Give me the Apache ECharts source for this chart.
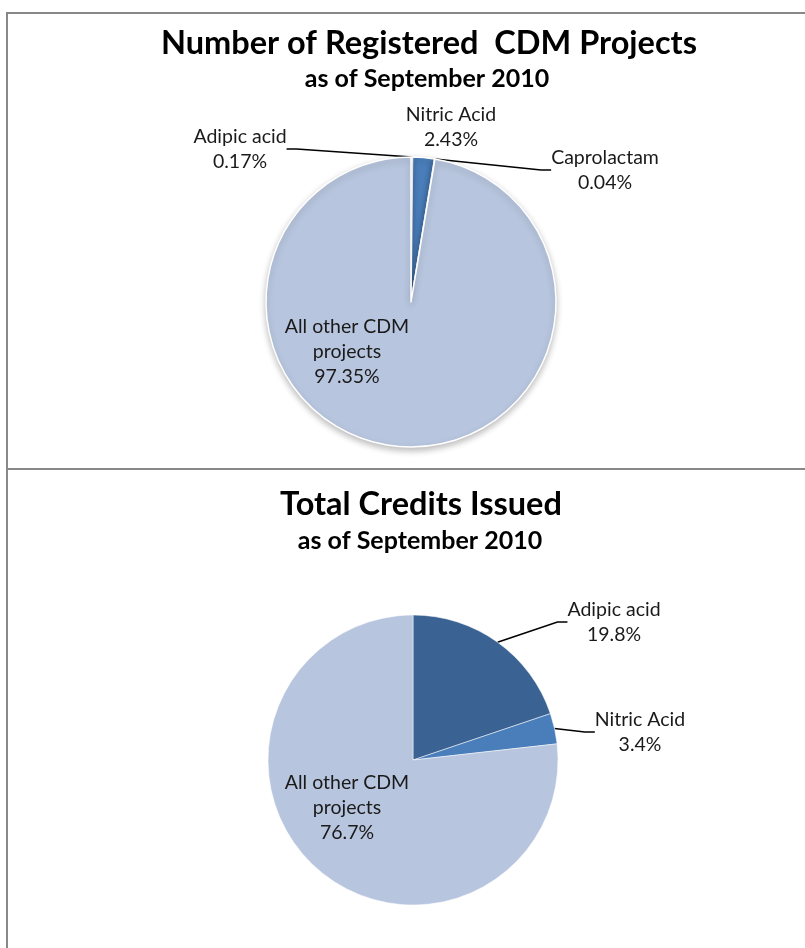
<!DOCTYPE html>
<html>
<head>
<meta charset="utf-8">
<script src="https://cdn.jsdelivr.net/npm/echarts@6/dist/echarts.min.js"></script>
<style>
  html, body { margin: 0; padding: 0; background: #fff; }
  #chart { width: 805px; height: 948px; }
</style>
</head>
<body>
<div id="chart"></div>
<script>
// registered projects, share in %
const projectNames = ['Adipic acid', 'Nitric Acid', 'Caprolactam', 'All other CDM\nprojects'];
const projectShares = [0.17, 2.43, 0.04, 97.35];
// credits issued, share in %
const creditNames = ['Adipic acid', 'Nitric Acid', 'All other CDM\nprojects'];
const creditShares = [19.8, 3.4, 76.7];

const projectColors = ['#3a6394', '#4a7ebb', '#95b3d7', '#b7c5de'];
const creditColors = ['#3a6394', '#4a7ebb', '#b7c5de'];

// where the label texts sit (centres)
const projectLabelPos = [[240, 149], [451, 127], [605, 170], [347, 352]];
const creditLabelPos = [[614, 622], [640, 732], [347, 808]];

const font = 'Lato, "Open Sans", sans-serif';
const grey = '#888888';

function makeData(names, values, colors, noLine) {
    return names.map((n, i) => ({
        name: n,
        value: values[i],
        itemStyle: {color: colors[i]},
        labelLine: {show: noLine.indexOf(i) < 0}
    }));
}

function layoutFrom(pos) {
    return function (params) {
        let p = pos[params.dataIndex];
        return {x: p[0], y: p[1], align: 'center', verticalAlign: 'middle'};
    };
}

let labelStyle = {
    show: true,
    formatter: '{b}\n{c}%',
    fontFamily: font,
    fontSize: 19.5,
    lineHeight: 25,
    color: '#1a1a1a',
    align: 'center'
};

let myChart = echarts.init(document.getElementById('chart'));
let option = {
    backgroundColor: '#fff',
    animation: false,
    title: [
        {text: 'Number of Registered  CDM Projects', left: 424, top: 22, textAlign: 'center',
            textStyle: {fontFamily: font, fontSize: 32.5, fontWeight: 'bold', color: '#000'}},
        {text: 'as of September 2010', left: 422, top: 61, textAlign: 'center',
            textStyle: {fontFamily: font, fontSize: 25, fontWeight: 'bold', color: '#000'}},
        {text: 'Total Credits Issued', left: 416, top: 483, textAlign: 'center',
            textStyle: {fontFamily: font, fontSize: 32.5, fontWeight: 'bold', color: '#000'}},
        {text: 'as of September 2010', left: 415, top: 523, textAlign: 'center',
            textStyle: {fontFamily: font, fontSize: 25, fontWeight: 'bold', color: '#000'}}
    ],
    graphic: [
        {type: 'line', shape: {x1: 7, y1: 13, x2: 805, y2: 13}, style: {stroke: grey, lineWidth: 2}},
        {type: 'line', shape: {x1: 7, y1: 469, x2: 805, y2: 469}, style: {stroke: grey, lineWidth: 2}},
        {type: 'line', shape: {x1: 7, y1: 12, x2: 7, y2: 948}, style: {stroke: grey, lineWidth: 2}}
    ],
    series: [
        {
            name: 'Registered projects',
            type: 'pie',
            center: [411, 302],
            radius: 145,
            startAngle: 90,
            clockwise: true,
            avoidLabelOverlap: false,
            itemStyle: {
                borderColor: '#fff',
                borderWidth: 1.5,
                shadowBlur: 6,
                shadowOffsetY: 3,
                shadowColor: 'rgba(0,0,0,0.25)'
            },
            label: labelStyle,
            labelLine: {show: true, length: 10, length2: 10, lineStyle: {color: '#000', width: 1.5}},
            labelLayout: layoutFrom(projectLabelPos),
            emphasis: {disabled: true},
            data: makeData(projectNames, projectShares, projectColors, [1, 3])
        },
        {
            name: 'Credits issued',
            type: 'pie',
            center: [413, 760],
            radius: 145,
            startAngle: 90,
            clockwise: true,
            avoidLabelOverlap: false,
            itemStyle: {borderColor: '#fff', borderWidth: 0.5},
            label: labelStyle,
            labelLine: {show: true, length: 10, length2: 10, lineStyle: {color: '#000', width: 1.5}},
            labelLayout: layoutFrom(creditLabelPos),
            emphasis: {disabled: true},
            data: makeData(creditNames, creditShares, creditColors, [2])
        }
    ]
};
myChart.setOption(option);
</script>
</body>
</html>
